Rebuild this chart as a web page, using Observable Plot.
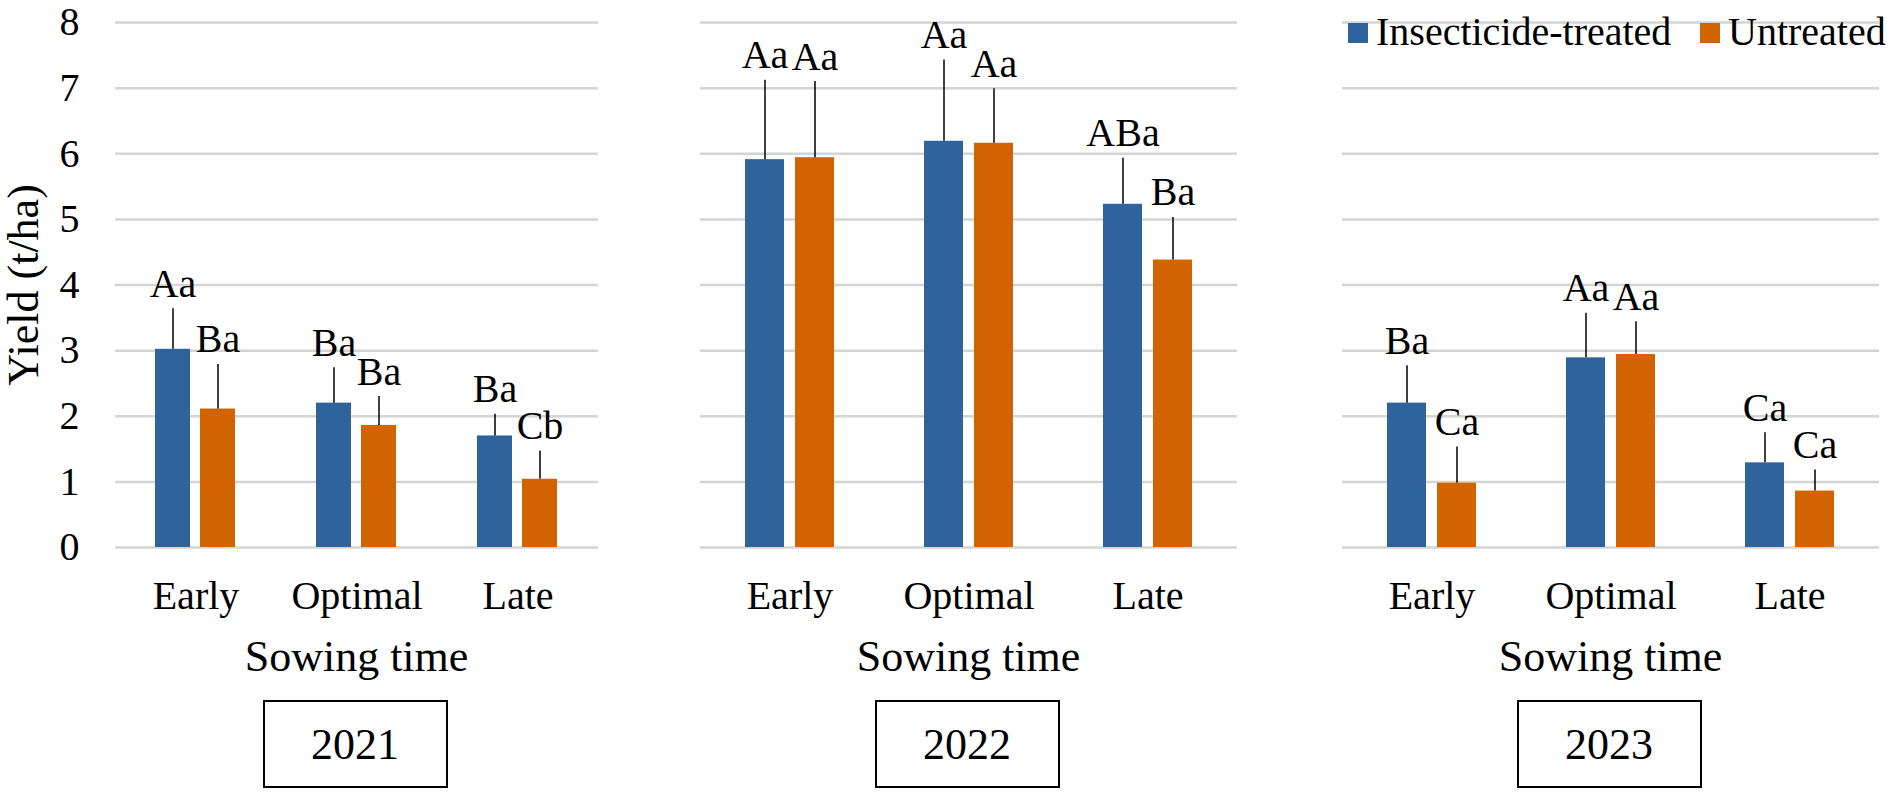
<!DOCTYPE html>
<html><head><meta charset="utf-8">
<script src="https://cdn.jsdelivr.net/npm/d3@7"></script>
<script src="https://cdn.jsdelivr.net/npm/@observablehq/plot@0.6"></script>
<style>
body{margin:0;background:#fff;}
#wrap{position:relative;width:1890px;height:806px;color:#000;overflow:hidden;background:#fff;}
.abs{position:absolute;}
.xlab{font-size:44px;line-height:44px;text-align:center;white-space:nowrap;}
.ybox{border:2.5px solid #000;box-sizing:border-box;font-size:44px;display:flex;align-items:center;justify-content:center;}
.ytitle{font-size:44px;line-height:50px;text-align:center;white-space:nowrap;transform:rotate(-90deg);}
.leg{font-size:40px;line-height:40px;white-space:nowrap;}
.sw{width:20px;height:20px;}
</style></head><body><div id="wrap"></div>
<script>
const years = ["2021", "2022", "2023"];
const sowingTimes = ["Early", "Optimal", "Late"];
const treatments = ["Insecticide-treated", "Untreated"];
const treatedYield   = [[3.02, 2.20, 1.70], [5.91, 6.19, 5.23], [2.20, 2.89, 1.29]];
const untreatedYield = [[2.11, 1.86, 1.04], [5.94, 6.16, 4.38], [0.98, 2.94, 0.86]];
const treatedError   = [[0.62, 0.54, 0.33], [1.21, 1.24, 0.70], [0.57, 0.68, 0.46]];
const untreatedError = [[0.68, 0.44, 0.43], [1.16, 0.83, 0.65], [0.55, 0.50, 0.32]];
const treatedLetters   = [["Aa", "Ba", "Ba"], ["Aa", "Aa", "ABa"], ["Ba", "Aa", "Ca"]];
const untreatedLetters = [["Ba", "Ba", "Cb"], ["Aa", "Aa", "Ba"], ["Ca", "Aa", "Ca"]];
const yTicks = [0, 1, 2, 3, 4, 5, 6, 7, 8];
const colors = ["#2e639b", "#d26400"];

const wrap = document.getElementById("wrap");
const panels = [
  {left: 0, mL: 114, width: 599},
  {left: 699, mL: 0, width: 539},
  {left: 1341, mL: 0, width: 539}
];

function add(cls, text, css) {
  const d = document.createElement("div");
  d.className = "abs " + cls;
  if (text != null) d.textContent = text;
  Object.assign(d.style, css);
  wrap.appendChild(d);
  return d;
}

years.forEach((yr, yi) => {
  const rows = sowingTimes.flatMap((t, i) => [
    {time: t, treat: treatments[0], value: treatedYield[yi][i], err: treatedError[yi][i], letter: treatedLetters[yi][i]},
    {time: t, treat: treatments[1], value: untreatedYield[yi][i], err: untreatedError[yi][i], letter: untreatedLetters[yi][i]}
  ]);
  const p = panels[yi];
  const chart = Plot.plot({
    width: p.width, height: 627,
    marginTop: 22, marginBottom: 80, marginLeft: p.mL, marginRight: 0,
    style: {fontFamily: "inherit", fontSize: "40px", color: "#000", background: "transparent", overflow: "visible"},
    fx: {domain: sowingTimes, padding: 0, axis: "bottom", tickSize: 0, tickPadding: 33, label: null},
    x: {domain: treatments, axis: null, paddingInner: 0.22, paddingOuter: 0.885},
    y: {domain: [0, 8], axis: yi === 0 ? "left" : null, ticks: yTicks, tickSize: 0, tickPadding: 36, label: null},
    color: {domain: treatments, range: colors},
    marks: [
      Plot.ruleY(yTicks, {stroke: "#d4d4d4", strokeWidth: 2.5}),
      Plot.barY(rows, {fx: "time", x: "treat", y: "value", fill: "treat"}),
      Plot.ruleX(rows, {fx: "time", x: "treat", y1: "value", y2: d => d.value + d.err, stroke: "#000", strokeWidth: 1.5}),
      Plot.text(rows, {fx: "time", x: "treat", y: d => d.value + d.err, text: "letter", lineAnchor: "bottom", dy: -12, fill: "#000", fontSize: 40})
    ]
  });
  chart.removeAttribute("font-family");
  chart.style.fontFamily = "inherit";
  chart.style.position = "absolute";
  chart.style.left = p.left + "px";
  chart.style.top = "0px";
  wrap.appendChild(chart);

  const cx = p.left + p.mL + (p.width - p.mL) / 2;
  add("xlab", "Sowing time", {left: (cx - 150) + "px", top: "635px", width: "300px"});
  add("ybox", yr, {left: (cx - 94) + "px", top: "700px", width: "185px", height: "88px"});
});

add("ytitle", "Yield (t/ha)", {left: (24 - 150) + "px", top: (284.5 - 25) + "px", width: "300px", height: "50px"});

add("sw", null, {left: "1348px", top: "23px", background: colors[0]});
add("leg", treatments[0], {left: "1376px", top: "11.5px"});
add("sw", null, {left: "1700px", top: "23px", background: colors[1]});
add("leg", treatments[1], {left: "1728px", top: "11.5px"});
</script>
</body></html>
